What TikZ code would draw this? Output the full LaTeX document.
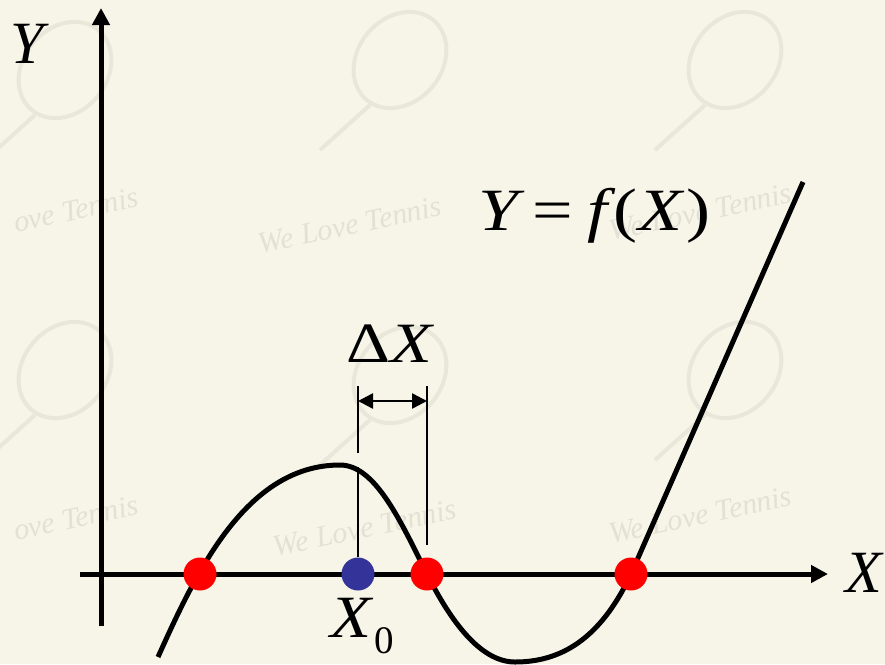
\documentclass[tikz,border=0pt]{standalone}
\usepackage{fontspec}
\usepackage{graphicx}
\setmainfont{Liberation Serif}
\usetikzlibrary{arrows.meta}
\definecolor{bgc}{RGB}{246,245,232}
\definecolor{wmc}{RGB}{232,231,218}
\definecolor{wmt}{RGB}{226,225,212}
\definecolor{dotred}{RGB}{255,0,0}
\definecolor{dotblue}{RGB}{51,51,153}
\begin{document}
\begin{tikzpicture}[x=1pt,y=-1pt,
  axis/.style={line width=5pt,-{Triangle[length=17pt,width=17pt]}},
  curve/.style={line width=5pt,line join=round},
  dimline/.style={line width=2.5pt},
  dimarrow/.style={line width=2.5pt,{Triangle[length=15pt,width=15pt]}-{Triangle[length=15pt,width=15pt]}},
  rdot/.style={circle,fill=dotred,inner sep=0pt,minimum size=33pt},
  bdot/.style={circle,fill=dotblue,inner sep=0pt,minimum size=33pt},
  lbl/.style={inner sep=0pt,anchor=base west,font=\fontsize{60}{64}\selectfont},
  wm/.style={text=wmt,font=\fontsize{30}{32}\selectfont\itshape,rotate=12,inner sep=0pt},
  racket/.style={draw=wmc,line width=4pt}]
\fill[bgc] (0,0) rectangle (885,664);
\useasboundingbox (0,0) rectangle (885,664);
% watermark
\foreach \dx/\dy in {0/0,335/-10,670/-10,0/300,335/305,670/300}{
  \draw[racket,rotate around={-40:(65+\dx,70+\dy)}] (65+\dx,70+\dy) ellipse (42pt and 52pt);
  \draw[racket] (35+\dx,115+\dy) -- (-15+\dx,160+\dy);
}
\node[wm] (w1) at (76,210) {ove Tennis};
\node[wm] (w4) at (76,518) {ove Tennis};
\foreach \x/\y/\n in {350/225/w2,700/212/w3,365/528/w5,700/515/w6}{
  \node[wm] (\n) at (\x,\y) {We Love Tennis};
}
% axes
\coordinate (yb) at (101,626);
\coordinate (yt) at (101,8);
\coordinate (xl) at (80,574);
\coordinate (xr) at (828,574);
\draw[axis] (yb) -- (yt);
\draw[axis] (xl) -- (xr);
\node[lbl] (ylab) at (10,63) {\itshape Y};
\node[lbl] (xlab) at (845,592) {\itshape X};
% curve
\coordinate (c0) at (158,657);
\coordinate (pk) at (340,465);
\coordinate (r2) at (427,574);
\coordinate (mn) at (515,662);
\coordinate (r3) at (631,574);
\coordinate (ce) at (803,182);
\draw[curve] (c0) .. controls (195,575) and (245,465) .. (pk)
  .. controls (375,465) and (400,520) .. (r2)
  .. controls (450,620) and (480,662) .. (mn)
  .. controls (560,662) and (600,640) .. (r3) -- (ce);
% dimension
\coordinate (d1t) at (358,386);
\coordinate (d1m) at (358,453);
\coordinate (d1c) at (358,467);
\coordinate (d2t) at (427,386);
\coordinate (d2b) at (427,545);
\coordinate (a1) at (358,401);
\coordinate (a2) at (427,401);
\draw[dimline] (d1t) -- (d1m);
\draw[dimline] (d2t) -- (d2b);
\draw[dimarrow] (a1) -- (a2);
\node[lbl,font=\fontsize{57}{60}\selectfont] (dx) at (346,362) {\scalebox{1.2}[1]{Δ\itshape X}};
% dots
\node[rdot] (p1) at (200,574) {};
\node[rdot] (p2) at (427,574) {};
\node[rdot] (p3) at (631,574) {};
\node[bdot] (p0) at (358,574) {};
\draw[dimline] (d1c) -- (p0);
\node[lbl] (x0) at (330,637) {\scalebox{1.12}[1]{\itshape X}\kern3pt\raisebox{-16pt}{\upshape\fontsize{39}{42}\selectfont 0}};
\node[lbl] (eq) at (478,230) {\scalebox{1.2}[1]{\itshape Y\hspace{12pt}\upshape=\hspace{12pt}\itshape f\kern5pt\upshape(\kern1pt\itshape X\kern3pt\upshape)}};
\end{tikzpicture}
\end{document}
